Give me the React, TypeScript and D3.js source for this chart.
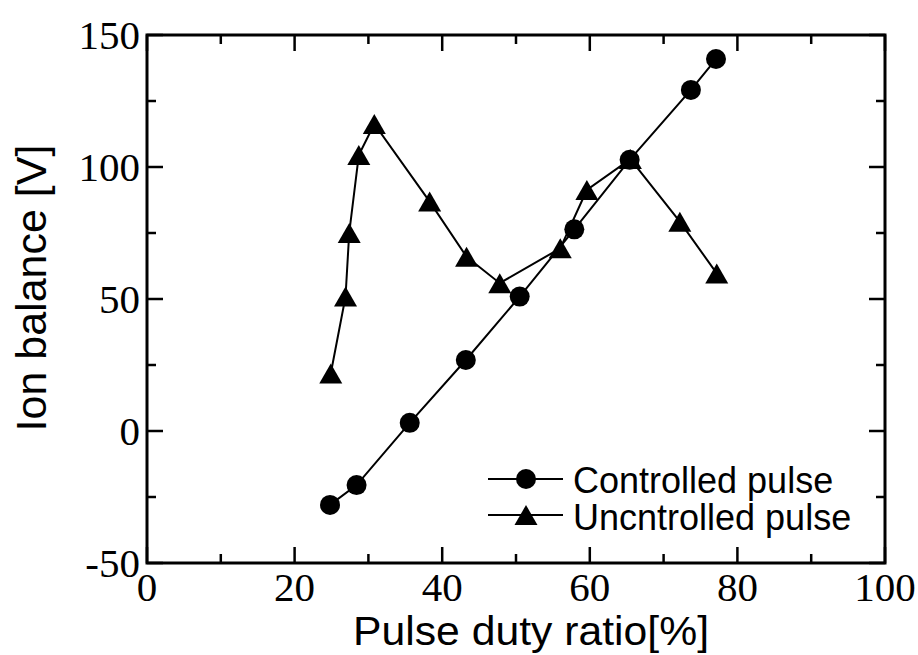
import React from "react";
import * as d3 from "d3";

const controlledX = [24.8, 28.4, 35.6, 43.2, 50.5, 57.9, 65.4, 73.7, 77.1];
const controlledY = [-28, -20.5, 3.1, 26.9, 50.9, 76.4, 102.7, 129.2, 140.9];
const uncontrolledX = [24.9, 26.9, 27.4, 28.7, 30.8, 38.3, 43.3, 47.8, 56.0, 59.6, 65.5, 72.2, 77.2];
const uncontrolledY = [21.8, 50.9, 75, 104.5, 116.3, 86.9, 66, 56, 69.2, 91.3, 103, 79.3, 59.7];
const xTicks = [0, 20, 40, 60, 80, 100];
const xMinor = [10, 30, 50, 70, 90];
const yTicks = [-50, 0, 50, 100, 150];
const yMinor = [-25, 25, 75, 125];
const seriesNames = ["Controlled pulse", "Uncntrolled pulse"];
const xTitle = "Pulse duty ratio[%]";
const yTitle = "Ion balance [V]";

const W = 918, H = 655;
const L = 147, R = 885, T = 35, B = 563;

const serif = "'Liberation Serif', 'Times New Roman', serif";
const sans = "'Liberation Sans', Arial, sans-serif";

const tri = "M0,-10L11.5,10L-11.5,10Z";

export default function App() {
  const x = d3.scaleLinear().domain([0, 100]).range([L, R]);
  const y = d3.scaleLinear().domain([-50, 150]).range([B, T]);
  const line = d3.line<[number, number]>().x(d => x(d[0])).y(d => y(d[1]));
  const cData: [number, number][] = controlledX.map((v, i) => [v, controlledY[i]]);
  const uData: [number, number][] = uncontrolledX.map((v, i) => [v, uncontrolledY[i]]);
  const major = 16, minor = 9;
  return (
    <svg width={W} height={H} style={{ position: "absolute", left: 0, top: 0, background: "#fff" }}>
      <rect x={0} y={0} width={W} height={H} fill="#fff" />
      {/* ticks */}
      <g stroke="#000" strokeWidth={2.5}>
        {xTicks.map(t => (
          <g key={"xt" + t}>
            <line x1={x(t)} x2={x(t)} y1={B} y2={B - major} />
            <line x1={x(t)} x2={x(t)} y1={T} y2={T + major} />
          </g>
        ))}
        {xMinor.map(t => (
          <g key={"xm" + t}>
            <line x1={x(t)} x2={x(t)} y1={B} y2={B - minor} />
            <line x1={x(t)} x2={x(t)} y1={T} y2={T + minor} />
          </g>
        ))}
        {yTicks.map(t => (
          <g key={"yt" + t}>
            <line x1={L} x2={L + major} y1={y(t)} y2={y(t)} />
            <line x1={R} x2={R - major} y1={y(t)} y2={y(t)} />
          </g>
        ))}
        {yMinor.map(t => (
          <g key={"ym" + t}>
            <line x1={L} x2={L + minor} y1={y(t)} y2={y(t)} />
            <line x1={R} x2={R - minor} y1={y(t)} y2={y(t)} />
          </g>
        ))}
      </g>
      <rect x={L} y={T} width={R - L} height={B - T} fill="none" stroke="#000" strokeWidth={3} />
      {/* tick labels */}
      <g fontFamily={serif} fontSize={41} fill="#000">
        {xTicks.map(t => (
          <text key={"xl" + t} x={x(t)} y={601} textAnchor="middle">{t}</text>
        ))}
        {yTicks.map(t => (
          <text key={"yl" + t} x={140} y={y(t) + 14} textAnchor="end">{t}</text>
        ))}
      </g>
      {/* titles */}
      <text x={353} y={645} fontFamily={sans} fontSize={40} fill="#000" textLength={356} lengthAdjust="spacingAndGlyphs">{xTitle}</text>
      <text transform={`translate(46,${288}) rotate(-90)`} textAnchor="middle" fontFamily={sans} fontSize={43} fill="#000">{yTitle}</text>
      {/* series */}
      <path d={line(uData) || ""} fill="none" stroke="#000" strokeWidth={2} />
      <path d={line(cData) || ""} fill="none" stroke="#000" strokeWidth={2} />
      {uData.map((d, i) => (
        <path key={"u" + i} d={tri} transform={`translate(${x(d[0])},${y(d[1])})`} fill="#000" />
      ))}
      {cData.map((d, i) => (
        <circle key={"c" + i} cx={x(d[0])} cy={y(d[1])} r={10} fill="#000" />
      ))}
      {/* legend */}
      <g>
        <line x1={488} x2={563} y1={479} y2={479} stroke="#000" strokeWidth={2} />
        <circle cx={526} cy={479} r={10} fill="#000" />
        <text x={573} y={493} fontFamily={sans} fontSize={36} fill="#000">{seriesNames[0]}</text>
        <line x1={488} x2={563} y1={515} y2={515} stroke="#000" strokeWidth={2} />
        <path d={tri} transform="translate(526,515)" fill="#000" />
        <text x={573} y={530} fontFamily={sans} fontSize={36} fill="#000">{seriesNames[1]}</text>
      </g>
    </svg>
  );
}
